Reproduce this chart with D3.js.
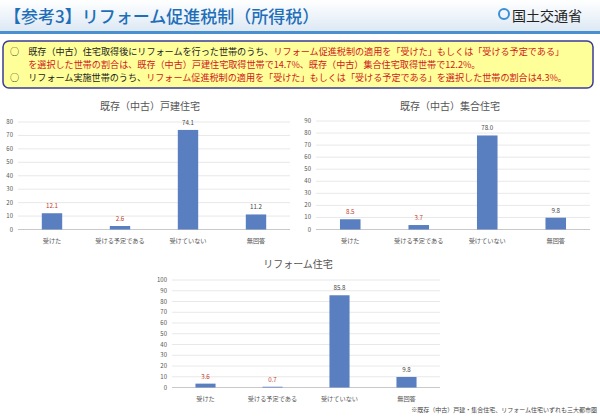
<!DOCTYPE html>
<html><head><meta charset="utf-8">
<script src="https://cdn.jsdelivr.net/npm/d3@7"></script>
<style>
body{margin:0;background:#fff;font-family:"Noto Sans CJK JP",sans-serif;}
</style></head><body>
<svg id="c" width="600" height="419"></svg>
<script>
// Data
const categories = ["受けた", "受ける予定である", "受けていない", "無回答"];
const detachedValues = [12.1, 2.6, 74.1, 11.2];
const condoValues = [8.5, 3.7, 78.0, 9.8];
const reformValues = [3.6, 0.7, 85.8, 9.8];
const detachedTicks = d3.range(0, 81, 10);
const condoTicks = d3.range(0, 91, 10);
const reformTicks = d3.range(0, 101, 10);

const svg = d3.select("#c");
const font = "Noto Sans CJK JP";

// Header
const grad = svg.append("defs").append("linearGradient").attr("id", "hg").attr("x1", 0).attr("x2", 0).attr("y1", 0).attr("y2", 1);
grad.append("stop").attr("offset", "0").attr("stop-color", "#ffffff");
grad.append("stop").attr("offset", "1").attr("stop-color", "#dce8f4");
svg.append("rect").attr("x", 0).attr("y", 0).attr("width", 600).attr("height", 32).attr("fill", "url(#hg)");
svg.append("rect").attr("x", 0).attr("y", 31).attr("width", 600).attr("height", 3).attr("fill", "#4a8fd0");
svg.append("text").attr("x", 4).attr("y", 23).attr("font-size", 17).attr("fill", "#1f6fb8").attr("font-weight", 500)
  .attr("font-family", font).text("【参考3】リフォーム促進税制（所得税）");
svg.append("circle").attr("cx", 504).attr("cy", 14).attr("r", 5).attr("fill", "none").attr("stroke", "#3a8fd8").attr("stroke-width", 2);
svg.append("text").attr("x", 512).attr("y", 21).attr("font-size", 14).attr("fill", "#222").attr("font-family", font).text("国土交通省");

// Note box
svg.append("rect").attr("x", 3).attr("y", 41).attr("width", 590).attr("height", 47).attr("rx", 6)
  .attr("fill", "#ffff99").attr("stroke", "#3b3b9a").attr("stroke-width", 1.5);
const lines = [
  [[ "○　既存（中古）住宅取得後にリフォームを行った世帯のうち、", "#222"], ["リフォーム促進税制の適用を「受けた」もしくは「受ける予定である」", "#d02020"]],
  [[ "　　を選択した世帯の割合は、既存（中古）戸建住宅取得世帯で14.7%、既存（中古）集合住宅取得世帯で12.2%。", "#d02020"]],
  [[ "○　リフォーム実施世帯のうち、", "#222"], ["リフォーム促進税制の適用を「受けた」もしくは「受ける予定である」を選択した世帯の割合は4.3%。", "#d02020"]]
];
lines.forEach((ln, i) => {
  const t = svg.append("text").attr("x", 10).attr("y", 55 + i * 13).attr("font-size", 9.1).attr("font-family", font);
  ln.forEach(([s, c]) => t.append("tspan").attr("fill", c).text(s));
});

// Chart helper
function drawChart(cfg) {
  const g = svg.append("g");
  const x = d3.scaleBand().domain(categories).range([cfg.x0, cfg.x1]).paddingInner(0.7).paddingOuter(0.35);
  const y = d3.scaleLinear().domain([0, d3.max(cfg.ticks)]).range([cfg.y0, cfg.yTop]);
  g.append("text").attr("x", cfg.titleX).attr("y", cfg.titleY).attr("text-anchor", "middle")
    .attr("font-size", 10).attr("fill", "#555").attr("font-family", font).text(cfg.title);
  g.selectAll(".grid").data(cfg.ticks).join("line")
    .attr("x1", cfg.x0).attr("x2", cfg.x1).attr("y1", d => y(d)).attr("y2", d => y(d))
    .attr("stroke", d => d === 0 ? "#bbb" : "#e2e2e2").attr("stroke-width", 0.8);
  g.selectAll(".yt").data(cfg.ticks).join("text")
    .attr("x", cfg.x0 - 5).attr("y", d => y(d) + 2).attr("text-anchor", "end")
    .attr("font-size", 6).attr("fill", "#555").attr("font-family", font).text(d => d);
  g.selectAll(".bar").data(cfg.values).join("rect")
    .attr("x", (d, i) => x(categories[i])).attr("width", x.bandwidth())
    .attr("y", d => y(d)).attr("height", d => y(0) - y(d)).attr("fill", "#5a7fc0");
  g.selectAll(".vl").data(cfg.values).join("text")
    .attr("x", (d, i) => x(categories[i]) + x.bandwidth() / 2).attr("y", d => y(d) - 5)
    .attr("text-anchor", "middle").attr("font-size", 6.2).attr("font-family", font)
    .attr("fill", (d, i) => i < 2 ? "#c0392b" : "#444").text(d => d.toFixed(1));
  g.selectAll(".xl").data(categories).join("text")
    .attr("x", d => x(d) + x.bandwidth() / 2).attr("y", cfg.y0 + 13)
    .attr("text-anchor", "middle").attr("font-size", 6.2).attr("fill", "#555").attr("font-family", font).text(d => d);
}

drawChart({ title: "既存（中古）戸建住宅", titleX: 150, titleY: 110, x0: 18, x1: 290, y0: 229.5, yTop: 122, ticks: detachedTicks, values: detachedValues });
drawChart({ title: "既存（中古）集合住宅", titleX: 450, titleY: 110, x0: 316, x1: 590, y0: 229.5, yTop: 121, ticks: condoTicks, values: condoValues });
drawChart({ title: "リフォーム住宅", titleX: 298, titleY: 268, x0: 172, x1: 440, y0: 387.5, yTop: 280, ticks: reformTicks, values: reformValues });

svg.append("text").attr("x", 597).attr("y", 412).attr("text-anchor", "end").attr("font-size", 6)
  .attr("fill", "#444").attr("font-family", font).text("※既存（中古）戸建・集合住宅、リフォーム住宅いずれも三大都市圏");
</script>
</body></html>
